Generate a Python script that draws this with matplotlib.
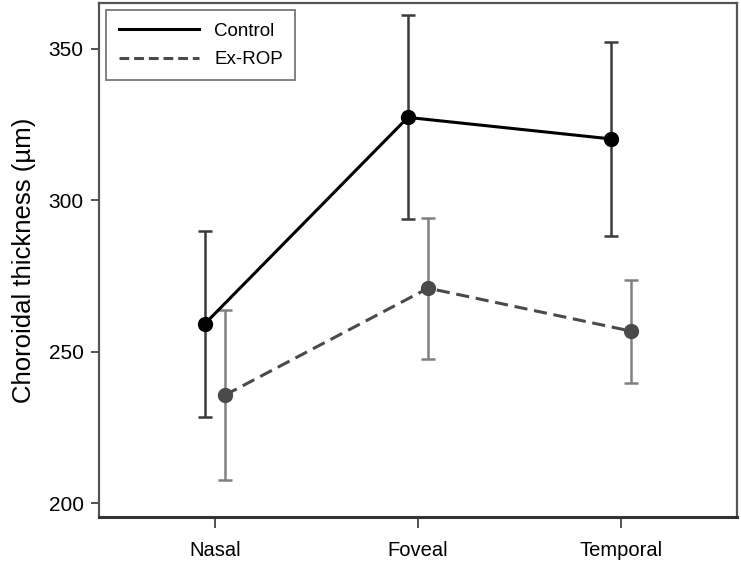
import matplotlib
matplotlib.use("Agg")
import matplotlib.pyplot as plt
import numpy as np
from matplotlib.lines import Line2D

plt.rcParams['font.family'] = ['Liberation Sans', 'DejaVu Sans']

categories = ["Nasal", "Foveal", "Temporal"]
control_mean = [259.2, 327.4, 320.3]
control_err = [30.6, 33.7, 32.0]
exrop_mean = [235.7, 271.0, 256.8]
exrop_err = [28.1, 23.3, 17.0]
yticks = [200, 250, 300, 350]

fig = plt.figure(figsize=(7.41, 5.61), dpi=100)
ax = fig.add_axes([0.1336, 0.0784, 0.861, 0.9163])

x = np.arange(len(categories))
off = 0.05
dash = (0, (4.3, 2.2))

ax.errorbar(x - off, control_mean, yerr=control_err, color='black', lw=2.2,
            marker='o', ms=10, mfc='black', mec='black', ecolor='#3a3a3a',
            elinewidth=1.8, capsize=5, capthick=1.8, label='Control', zorder=3)
ax.errorbar(x + off, exrop_mean, yerr=exrop_err, color='#4a4a4a', lw=2.2,
            ls=dash, marker='o', ms=10, mfc='#4a4a4a', mec='#4a4a4a',
            ecolor='#808080', elinewidth=1.8, capsize=5, capthick=1.8,
            label='Ex-ROP', zorder=2)

ax.set_xlim(-0.571, 2.571)
ax.set_ylim(195.4, 365.2)
ax.set_xticks(x)
ax.set_xticklabels(categories, fontsize=14.5)
ax.set_yticks(yticks)
ax.set_yticklabels([str(t) for t in yticks], fontsize=15)
ax.tick_params(axis='x', length=8, width=1.3, color='#444444', pad=9)
ax.tick_params(axis='y', length=6, width=1.3, color='#444444', pad=5)
ax.set_ylabel("Choroidal thickness (\u00b5m)", fontsize=18.5, labelpad=9)

for s in ax.spines.values():
    s.set_color('#555555')
    s.set_linewidth(1.6)
ax.spines['bottom'].set_color('#333333')
ax.spines['bottom'].set_linewidth(2.2)

labels = ['Control', 'Ex-ROP']
hh = [Line2D([], [], color='black', lw=2.2),
      Line2D([], [], color='#4a4a4a', lw=2.2, ls=(0, (3.2, 1.6)))]
leg = ax.legend(hh, labels, loc='upper left', fontsize=13.5, frameon=True, fancybox=False,
                edgecolor='#555555', handlelength=4.3, borderaxespad=0.4,
                borderpad=0.65, labelspacing=0.6, handletextpad=0.8)
leg.get_frame().set_linewidth(1.3)

fig.savefig("out.png", dpi=100)
